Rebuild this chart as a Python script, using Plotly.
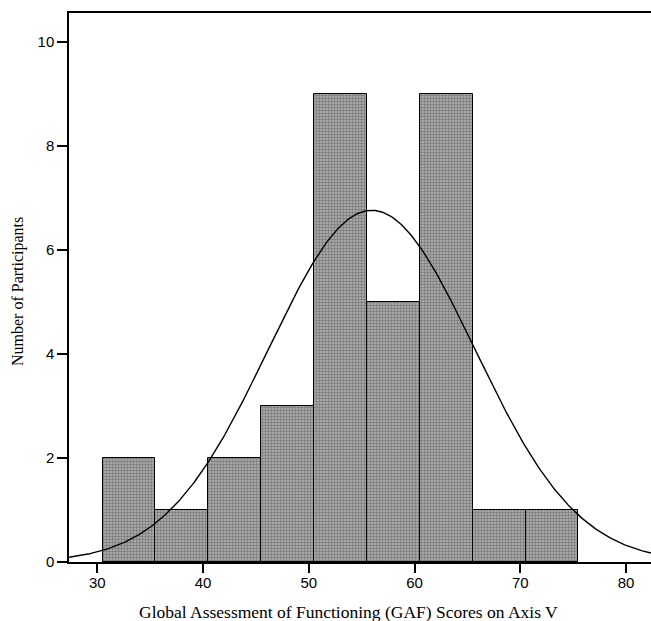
import numpy as np
import plotly.graph_objects as go

# Histogram data (bin centres, counts)
bin_centers = [33, 38, 43, 48, 53, 58, 63, 68, 73]
counts = [2, 1, 2, 3, 9, 5, 9, 1, 1]
bin_width = 5

# Fitted normal curve parameters
fit_mean = 55.95
fit_sd = 9.74
n_total = sum(counts)

x_ticks = [30, 40, 50, 60, 70, 80]
y_ticks = [0, 2, 4, 6, 8, 10]
x_range = [27.33, 82.36]
y_range = [0, 10.55]

x_title = "Global Assessment of Functioning (GAF) Scores on Axis V"
y_title = "Number of Participants"

xs = np.linspace(x_range[0], x_range[1], 400)
ys = n_total * bin_width / (fit_sd * np.sqrt(2 * np.pi)) * np.exp(-0.5 * ((xs - fit_mean) / fit_sd) ** 2)

fig = go.Figure()
fig.add_trace(go.Bar(
    x=bin_centers, y=counts, width=bin_width,
    marker=dict(
        color="#9a9a9a",
        line=dict(color="black", width=1),
        pattern=dict(shape=".", fgcolor="#3c3c3c", bgcolor="#b4b4b4", size=3, solidity=0.5),
    ),
    showlegend=False,
))
fig.add_trace(go.Scatter(
    x=xs, y=ys, mode="lines",
    line=dict(color="black", width=1.4),
    showlegend=False,
))

fig.update_layout(
    width=651, height=621,
    margin=dict(l=69, r=0, t=13, b=59),
    paper_bgcolor="white", plot_bgcolor="white",
    bargap=0,
    font=dict(family="Liberation Sans, Arial, sans-serif", size=14, color="black"),
)
fig.update_xaxes(
    range=x_range, tickvals=x_ticks, ticktext=[str(v) for v in x_ticks],
    showline=True, linecolor="black", linewidth=1.5, mirror=True,
    ticks="outside", ticklen=9, tickwidth=1.5, tickcolor="black",
    ticklabelstandoff=-3,
    showgrid=False, zeroline=False,
    tickfont=dict(family="Liberation Sans, Arial, sans-serif", size=15),
)
fig.update_yaxes(
    range=y_range, tickvals=y_ticks, ticktext=[str(v) for v in y_ticks],
    showline=True, linecolor="black", linewidth=1.5,
    ticks="outside", ticklen=10, tickwidth=1.5, tickcolor="black",
    showgrid=False, zeroline=False,
    tickfont=dict(family="Liberation Sans, Arial, sans-serif", size=15),
)
fig.add_annotation(
    text=x_title, xref="paper", yref="paper",
    x=(348 - 69) / (651 - 69), y=-(612 - 562) / (562 - 13),
    xanchor="center", yanchor="middle", showarrow=False,
    font=dict(family="Liberation Serif, Times New Roman, serif", size=17.5),
)
fig.add_annotation(
    text=y_title, xref="paper", yref="paper", textangle=-90,
    x=-(69 - 18) / (651 - 69), y=(562 - 292) / (562 - 13),
    xanchor="center", yanchor="middle", showarrow=False,
    font=dict(family="Liberation Serif, Times New Roman, serif", size=16),
)

fig.write_html("out.html")
